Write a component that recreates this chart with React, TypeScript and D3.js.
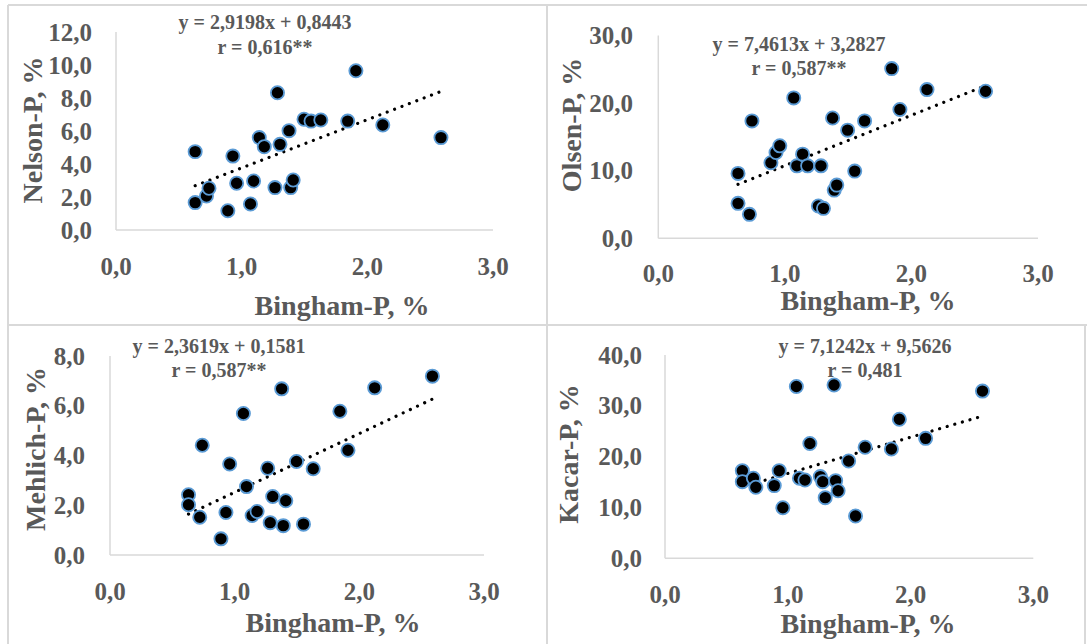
import React from 'react';
import * as d3 from 'd3';

// Shared x values (Bingham-P, %)
const bingham = [0.63, 0.63, 0.72, 0.74, 0.89, 0.93, 0.96, 1.07, 1.095, 1.14, 1.18, 1.265, 1.285, 1.305, 1.377, 1.39, 1.41, 1.496, 1.552, 1.63, 1.844, 1.909, 2.123, 2.586];
const nelson = [4.75, 1.66, 2.06, 2.53, 1.17, 4.48, 2.83, 1.58, 2.97, 5.6, 5.05, 2.57, 8.32, 5.19, 6.02, 2.57, 3.03, 6.71, 6.6, 6.67, 6.6, 9.65, 6.36, 5.6];
const olsen = [9.6, 5.17, 3.54, 17.37, 11.17, 12.7, 13.68, 20.77, 10.72, 12.45, 10.72, 4.77, 10.72, 4.43, 17.8, 7.13, 7.87, 16.0, 9.94, 17.37, 25.1, 19.05, 22.0, 21.76];
const mehlich = [2.42, 2.02, 1.52, 4.41, 0.65, 1.71, 3.66, 5.69, 2.75, 1.59, 1.75, 3.49, 1.3, 2.35, 6.68, 1.18, 2.18, 3.76, 1.24, 3.47, 5.78, 4.21, 6.72, 7.19];
const kacar = [17.24, 15.08, 15.75, 13.98, 14.3, 17.24, 9.96, 33.8, 15.75, 15.4, 22.6, 16.07, 15.08, 11.93, 34.1, 15.28, 13.3, 19.15, 8.33, 21.85, 21.5, 27.36, 23.6, 32.9];

const xTicks = [0, 1, 2, 3];
const nelsonTicks = [0, 2, 4, 6, 8, 10, 12];
const olsenTicks = [0, 10, 20, 30];
const mehlichTicks = [0, 2, 4, 6, 8];
const kacarTicks = [0, 10, 20, 30, 40];

const yTitles = ['Nelson-P, %', 'Olsen-P, %', 'Mehlich-P, %', 'Kacar-P, %'];
const xTitle = 'Bingham-P, %';
const equations = ['y = 2,9198x + 0,8443', 'y = 7,4613x + 3,2827', 'y = 2,3619x + 0,1581', 'y = 7,1242x + 9,5626'];
const rLabels = ['r = 0,616**', 'r = 0,587**', 'r = 0,587**', 'r = 0,481'];
const slopes = [2.9198, 7.4613, 2.3619, 7.1242];
const intercepts = [0.8443, 3.2827, 0.1581, 9.5626];
const seriesList = [nelson, olsen, mehlich, kacar];
const yTickList = [nelsonTicks, olsenTicks, mehlichTicks, kacarTicks];

// Layout (positions only)
const layouts = [
  { x0: 116, x1: 493, y0: 230, y1: 32, yTickX: 92, xTickBase: 275, xTitle: [342, 315], yTitle: [42, 130], eqX: 265, eqB: [29, 54] },
  { x0: 658.3, x1: 1038, y0: 238.3, y1: 35.5, yTickX: 633, xTickBase: 282, xTitle: [868, 310], yTitle: [581, 125], eqX: 799, eqB: [51, 75] },
  { x0: 110, x1: 484, y0: 555, y1: 356, yTickX: 85, xTickBase: 600, xTitle: [333, 632], yTitle: [45, 449], eqX: 219, eqB: [353, 377] },
  { x0: 665, x1: 1033.3, y0: 558.3, y1: 355, yTickX: 642, xTickBase: 603, xTitle: [868, 633], yTitle: [578, 454], eqX: 865, eqB: [353, 377] },
];

const fmt = (v: number) => d3.format('.1f')(v).replace('.', ',');
const FONT = '"Liberation Serif", "Times New Roman", serif';
const TXT = '#595959';
const GRID = '#d9d9d9';

function Panel({ i }: { i: number }) {
  const L = layouts[i];
  const ys = seriesList[i];
  const ticks = yTickList[i];
  const x = d3.scaleLinear().domain([0, 3]).range([L.x0, L.x1]);
  const y = d3.scaleLinear().domain([0, ticks[ticks.length - 1]]).range([L.y0, L.y1]);
  const [xmin, xmax] = d3.extent(bingham) as [number, number];
  const line = d3.line<number>().x((d) => x(d)).y((d) => y(slopes[i] * d + intercepts[i]));
  return (
    <g fontFamily={FONT} fontWeight="bold" fill={TXT}>
      <line x1={L.x0} x2={L.x0} y1={L.y1} y2={L.y0} stroke={GRID} strokeWidth={1.5} />
      <line x1={L.x0} x2={L.x1} y1={L.y0} y2={L.y0} stroke={GRID} strokeWidth={1.5} />
      {ticks.map((t) => (
        <text key={'y' + t} x={L.yTickX} y={y(t) + 8.5} textAnchor="end" fontSize={25}>{fmt(t)}</text>
      ))}
      {xTicks.map((t) => (
        <text key={'x' + t} x={x(t)} y={L.xTickBase} textAnchor="middle" fontSize={25}>{fmt(t)}</text>
      ))}
      <text x={L.xTitle[0]} y={L.xTitle[1]} textAnchor="middle" fontSize={28}>{xTitle}</text>
      <text transform={`translate(${L.yTitle[0]},${L.yTitle[1]}) rotate(-90)`} textAnchor="middle" fontSize={28}>{yTitles[i]}</text>
      <path d={line([xmin, xmax]) || ''} fill="none" stroke="#000" strokeWidth={3.2} strokeLinecap="round" strokeDasharray="0.01 7.9" />
      {bingham.map((bx, k) => (
        <circle key={k} cx={x(bx)} cy={y(ys[k])} r={6.6} fill="#000" stroke="#5B9BD5" strokeWidth={1.8} />
      ))}
      <text x={L.eqX} y={L.eqB[0]} textAnchor="middle" fontSize={20}>{equations[i]}</text>
      <text x={L.eqX} y={L.eqB[1]} textAnchor="middle" fontSize={20}>{rLabels[i]}</text>
    </g>
  );
}

export default function App() {
  return (
    <svg width={1087} height={644} style={{ position: 'absolute', left: 0, top: 0, background: '#fff' }}>
      <rect x={0} y={0} width={1087} height={644} fill="#fff" />
      <g stroke={GRID} strokeWidth={2}>
        <line x1={8} x2={1087} y1={5} y2={5} />
        <line x1={8} x2={8} y1={5} y2={644} />
        <line x1={547} x2={547} y1={5} y2={644} />
        <line x1={8} x2={1087} y1={325} y2={325} />
        <line x1={1085} x2={1085} y1={325} y2={644} />
      </g>
      {[0, 1, 2, 3].map((i) => (
        <Panel key={i} i={i} />
      ))}
    </svg>
  );
}
